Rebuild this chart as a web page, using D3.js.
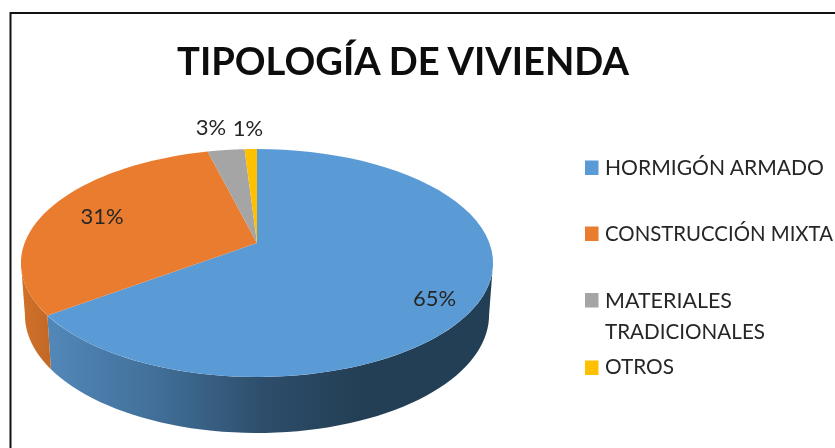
<!DOCTYPE html>
<html><head><meta charset="utf-8">
<script src="https://cdn.jsdelivr.net/npm/d3@7"></script>
<style>html,body{margin:0;padding:0;background:#fff;overflow:hidden}svg{display:block}text{font-family:Lato,"Open Sans",sans-serif}</style>
</head><body><svg id="c" width="835" height="448"></svg>
<script>
const title = "TIPOLOGÍA DE VIVIENDA";
const categories = ["HORMIGÓN ARMADO","CONSTRUCCIÓN MIXTA","MATERIALES TRADICIONALES","OTROS"];
const legendLines = [["HORMIGÓN ARMADO"],["CONSTRUCCIÓN MIXTA"],["MATERIALES","TRADICIONALES"],["OTROS"]];
const legendWidths = [[219],[228],[127,160],[69]];
const legendSizes = [21,20.5,21,21];
const legendBase = [[175],[241],[308,339],[374]];
const values = [65,31,3,1];
const colors = ["#5b9bd5","#ea7c30","#a5a5a5","#ffc000"];
const labelPos = [[434.5,306],[102,224],[211,135],[248,136]];
const legendY = [168,234,300.5,368];

const svg = d3.select("#c");
const defs = svg.append("defs");
defs.append("filter").attr("id","soft").append("feGaussianBlur").attr("stdDeviation",0.35);
const g1 = defs.append("linearGradient").attr("id","blueWall").attr("gradientUnits","userSpaceOnUse")
  .attr("x1",46).attr("x2",360).attr("y1",0).attr("y2",0);
[[0,"#5288b9"],[0.35,"#416f99"],[0.7,"#2d4d6a"],[1,"#233f55"]].forEach(s=>g1.append("stop").attr("offset",s[0]).attr("stop-color",s[1]));
const g2 = defs.append("linearGradient").attr("id","orangeWall").attr("gradientUnits","userSpaceOnUse")
  .attr("x1",21).attr("x2",50).attr("y1",0).attr("y2",0);
[[0,"#d2722b"],[1,"#c26825"]].forEach(s=>g2.append("stop").attr("offset",s[0]).attr("stop-color",s[1]));

// frame
svg.append("path").attr("d","M10.5,448V13H835").attr("fill","none").attr("stroke","#111").attr("stroke-width",2);

// tilted-disc projection of the pie (projective image of a unit circle)
const cx=257, k=232.4, a=-67.86, b=243, c=0.1754;
const topPt=(t)=>{const u=Math.sin(t),v=Math.cos(t),d=c*v+1;return [cx+k*u/d,(a*v+b)/d];};
const lowPt=(t)=>{const p=topPt(t);return [cx+(p[0]-cx)*232/236,315+(p[1]-263)*118/114];};
const samples=(t0,t1)=>d3.range(0,61).map(i=>t0+(t1-t0)*i/60);
const line=d3.line();

const arcs=d3.pie().sort(null).value(d=>d)(values);
const rightEdge=100.1*Math.PI/180, leftEdge=259.9*Math.PI/180;

// side walls (visible front part only)
const wall=(t0,t1,fill)=>{
  const pts=samples(t0,t1).map(topPt).concat(samples(t0,t1).reverse().map(lowPt));
  svg.append("path").attr("d",line(pts)+"Z").attr("fill",fill);
};
wall(rightEdge,arcs[0].endAngle,"url(#blueWall)");
wall(arcs[0].endAngle,leftEdge,"url(#orangeWall)");

// top faces
svg.selectAll("path.slice").data(arcs).enter().append("path").attr("class","slice")
  .attr("d",d=>line([[cx,b]].concat(samples(d.startAngle,d.endAngle).map(topPt)))+"Z")
  .attr("fill",(d,i)=>colors[i]);

// title
svg.append("text").attr("x",177).attr("y",75)
  .attr("textLength",452).attr("lengthAdjust","spacingAndGlyphs")
  .attr("font-size",39).attr("font-weight",700).attr("fill","#0a0a0a").attr("filter","url(#soft)").text(title);

// data labels
svg.selectAll("text.lab").data(values).enter().append("text").attr("class","lab")
  .attr("x",(d,i)=>labelPos[i][0]).attr("y",(d,i)=>labelPos[i][1]).attr("text-anchor","middle")
  .attr("font-size",22).attr("fill","#262626").attr("filter","url(#soft)").text(d=>d+"%");

// legend
const lg=svg.selectAll("g.leg").data(categories).enter().append("g").attr("class","leg");
lg.append("rect").attr("x",585).attr("y",(d,i)=>legendY[i]-7.5).attr("width",13.5).attr("height",14.5).attr("fill",(d,i)=>colors[i]);
lg.each(function(d,i){
  legendLines[i].forEach((s,j)=>{
    d3.select(this).append("text").attr("x",605).attr("y",legendBase[i][j])
      .attr("textLength",legendWidths[i][j]).attr("lengthAdjust","spacingAndGlyphs")
      .attr("font-size",legendSizes[i]).attr("fill","#262626").attr("filter","url(#soft)").text(s);
  });
});
</script></body></html>
